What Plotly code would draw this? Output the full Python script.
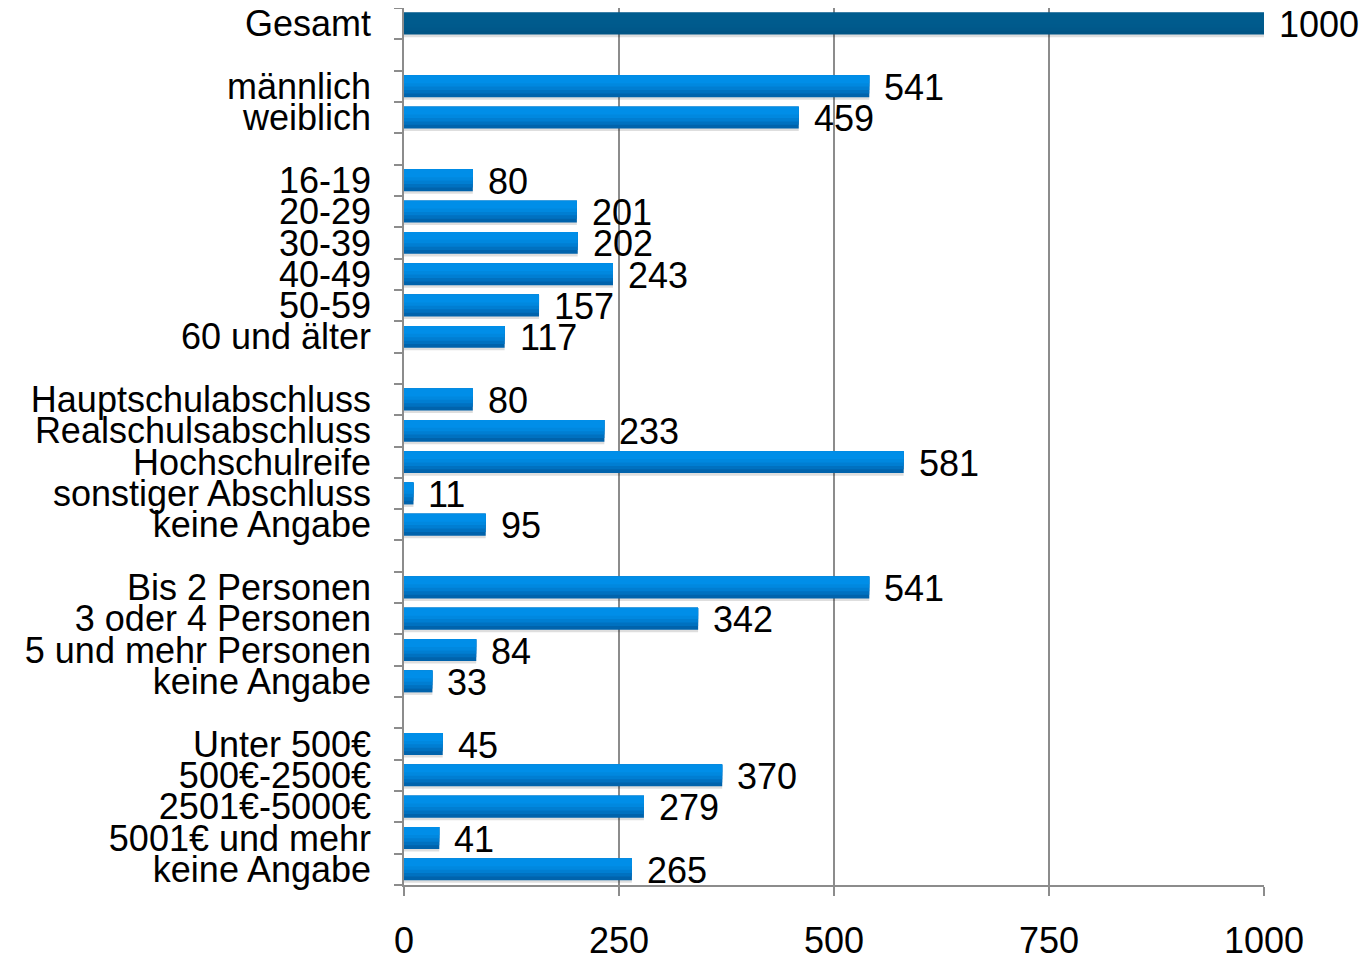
import plotly.graph_objects as go

categories = ["Gesamt", "", "männlich", "weiblich", "",
              "16-19", "20-29", "30-39", "40-49", "50-59", "60 und älter", "",
              "Hauptschulabschluss", "Realschulsabschluss", "Hochschulreife",
              "sonstiger Abschluss", "keine Angabe", "",
              "Bis 2 Personen", "3 oder 4 Personen", "5 und mehr Personen", "keine Angabe", "",
              "Unter 500€", "500€-2500€", "2501€-5000€", "5001€ und mehr", "keine Angabe"]
values = [1000, None, 541, 459, None,
          80, 201, 202, 243, 157, 117, None,
          80, 233, 581, 11, 95, None,
          541, 342, 84, 33, None,
          45, 370, 279, 41, 265]
x_ticks = [0, 250, 500, 750, 1000]

pos = list(range(len(categories)))
ys = [p for p, v in zip(pos, values) if v is not None]
xs = [v for v in values if v is not None]
labs = [c for c, v in zip(categories, values) if v is not None]
is_total = [c == "Gesamt" for c in labs]

FONT = "Liberation Sans, Arial, sans-serif"
FS = 36
fig = go.Figure()

# shadow
fig.add_trace(go.Bar(y=ys, x=xs, orientation="h", width=0.7, offset=-0.27,
                     marker=dict(color="rgba(0,0,0,0.13)", line_width=0),
                     hoverinfo="skip", showlegend=False))
# gradient layers (bottom dark -> top light)
layers = [(0.70, "#0063AC", "#005585"),
          (0.58, "#0071C0", "#00588A"),
          (0.47, "#007ED2", "#005A8C"),
          (0.36, "#0088DF", "#005B8D"),
          (0.25, "#008EE8", "#005C8E")]
for w, c, ct in layers:
    fig.add_trace(go.Bar(y=ys, x=xs, orientation="h", width=w, offset=-0.35,
                         marker=dict(color=[ct if t else c for t in is_total], line_width=0),
                         hoverinfo="skip", showlegend=False))

for y, v in zip(ys, xs):
    fig.add_annotation(x=v, y=y, text=str(v), showarrow=False, xanchor="left",
                       xshift=13, yshift=-1, font=dict(size=FS, color="black", family=FONT))

fig.update_layout(
    barmode="overlay",
    width=1359, height=947,
    margin=dict(l=396, r=103, t=0, b=70, autoexpand=False),
    paper_bgcolor="white", plot_bgcolor="white",
    font=dict(family=FONT, size=FS, color="black"),
    xaxis=dict(range=[0, 1000], tickvals=x_ticks, ticktext=[str(t) for t in x_ticks],
               automargin=False, ticklabeloverflow="allow",
               showgrid=True, gridcolor="#8c8c8c", gridwidth=1.5,
               showline=True, linecolor="#8c8c8c", linewidth=1.5,
               ticks="outside", ticklen=9, tickcolor="#8c8c8c", tickwidth=1.5,
               ticklabelstandoff=14, zeroline=False,
               tickfont=dict(size=FS, color="black", family=FONT)),
    yaxis=dict(range=[27.5, -0.5], tickvals=ys, ticktext=labs,
               automargin=False, ticklabeloverflow="allow",
               showgrid=False, zeroline=False,
               showline=True, linecolor="#8c8c8c", linewidth=1.5,
               ticks="outside", ticklen=8, tickcolor="rgba(0,0,0,0)",
               ticklabelstandoff=16,
               minor=dict(tickmode="linear", tick0=-0.5, dtick=1, ticks="outside",
                          ticklen=8, tickcolor="#8c8c8c", tickwidth=1.5, showgrid=False),
               tickfont=dict(size=FS, color="black", family=FONT)),
)

fig.write_html("out.html")
